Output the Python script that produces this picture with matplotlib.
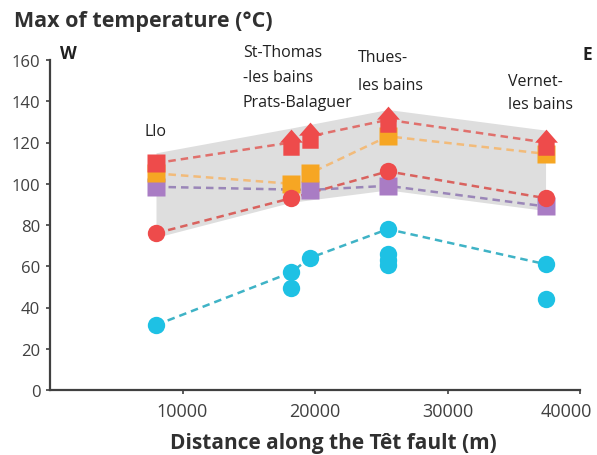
#!/usr/bin/env python3

"""
Maximum temperature estimates of hot springs along the Têt fault.
"""

import matplotlib
matplotlib.use("Agg")
import matplotlib.pyplot as plt
import matplotlib.transforms as mtransforms
from matplotlib.path import Path

# Spring positions along the fault (m)
LLO = 8000
ST1 = 18200
ST2 = 19600
THU = 25500
VER = 37400

# Upper red series (square at Llo, arrows = minimum estimates)
red_hi_x = [LLO, ST1, ST2, THU, VER]
red_hi_y = [110, 120, 123, 131, 120]

orange_x = [LLO, ST1, ST2, THU, VER]
orange_y = [105, 100, 105, 123, 114.5]

purple_x = [LLO, ST2, THU, VER]
purple_y = [98.5, 97, 99, 89]

red_lo_x = [LLO, ST1, THU, VER]
red_lo_y = [76, 93, 106, 93]

cyan_x = [LLO, ST1, ST2, THU, VER]
cyan_y = [31.5, 57, 64, 78, 61]
cyan_extra_x = [ST1, THU, THU, THU, VER]
cyan_extra_y = [49.5, 66, 63, 60.5, 44]

# Grey envelope
band_x = [LLO, ST1, THU, VER]
band_hi = [115, 127, 136, 126]
band_lo = [74, 91, 97, 87]

sites = [
    ("Llo", 145, 132),
    ("St-Thomas", 243, 53),
    ("-les bains", 243, 78),
    ("Prats-Balaguer", 243, 103),
    ("Thues-", 358, 58),
    ("les bains", 358, 86),
    ("Vernet-", 508, 82),
    ("les bains", 508, 105),
]

RED = "#ee4b4b"
ORANGE = "#f6a623"
PURPLE = "#a97cc4"
CYAN = "#1ec1e4"

plt.rcParams["font.family"] = ["Open Sans", "DejaVu Sans"]

W, H = 597, 456
fig = plt.figure(figsize=(W / 100, H / 100), dpi=100)
ax = fig.add_axes([50 / W, 1 - 391 / H, 530 / W, 330 / H])

# up-arrow marker
arrow = Path([(-0.5, -0.75), (0.5, -0.75), (0.5, 0.05), (0.7, 0.05),
              (0.0, 0.85), (-0.7, 0.05), (-0.5, 0.05), (-0.5, -0.75)],
             [Path.MOVETO] + [Path.LINETO] * 6 + [Path.CLOSEPOLY])

ax.fill_between(band_x, band_lo, band_hi, color="#dedede", lw=0, zorder=1)

dash = dict(lw=1.8, dashes=(3, 2), zorder=2)
ax.plot(red_hi_x, red_hi_y, color="#e0706c", **dash)
ax.plot(orange_x, orange_y, color="#f2bb7a", **dash)
ax.plot(purple_x, purple_y, color="#9a86b8", **dash)
ax.plot(red_lo_x, red_lo_y, color="#d9625e", **dash)
ax.plot(cyan_x, cyan_y, color="#3fb3c6", **dash)

sq = 12.5
ax.plot(purple_x, purple_y, "s", ms=sq, color=PURPLE, mec="none", zorder=3)
ax.plot(orange_x, orange_y, "s", ms=sq, color=ORANGE, mec="none", zorder=4)
ax.plot(red_lo_x, red_lo_y, "o", ms=12.5, color=RED, mec="none", zorder=5)
ax.plot(red_hi_x[:1], red_hi_y[:1], "s", ms=sq, color=RED, mec="none", zorder=6)
ax.plot(red_hi_x[1:], red_hi_y[1:], marker=arrow, ls="none", ms=20,
        color=RED, mec="none", zorder=6)
ax.plot(cyan_x, cyan_y, "o", ms=12.5, color=CYAN, mec="none", zorder=5)
ax.plot(cyan_extra_x, cyan_extra_y, "o", ms=12.5, color=CYAN, mec="none", zorder=5)

ax.set_xlim(0, 40000)
ax.set_ylim(0, 160)
ax.set_xticks([10000, 20000, 30000, 40000])
ax.set_yticks(range(0, 161, 20))
for s in ["top", "right"]:
    ax.spines[s].set_visible(False)
for s in ["left", "bottom"]:
    ax.spines[s].set_color("#404040")
    ax.spines[s].set_linewidth(1.6)
ax.tick_params(colors="#404040", labelsize=12, length=3, width=1.2, pad=4)
ax.tick_params(axis="x", labelsize=13, pad=6)

# keep the last x label inside the figure
last = ax.get_xticklabels()[-1]
last.set_horizontalalignment("right")
last.set_transform(last.get_transform() +
                   mtransforms.ScaledTranslation(12 / 100, 0, fig.dpi_scale_trans))

for txt, x, y in sites:
    fig.text(x / W, 1 - y / H, txt, fontsize=11.5, va="center", ha="left", color="#202020")

fig.text(60 / W, 1 - 54 / H, "W", fontsize=12.5, fontweight="bold", va="center", color="#202020")
fig.text(582 / W, 1 - 55 / H, "E", fontsize=12.5, fontweight="bold", va="center", color="#202020")
fig.text(14 / W, 1 - 22 / H, "Max of temperature (°C)", fontsize=15.5,
         fontweight="bold", va="center", color="#303030")
fig.text(333 / W, 1 - 444 / H, "Distance along the Têt fault (m)", fontsize=15,
         fontweight="bold", ha="center", va="center", color="#303030")

fig.savefig("out.png", dpi=100)
